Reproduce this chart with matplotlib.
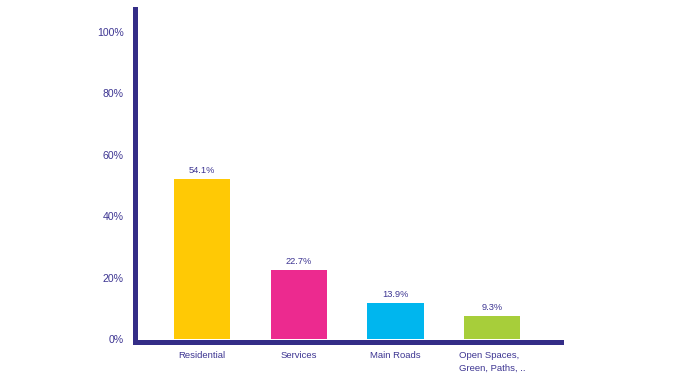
import matplotlib
matplotlib.use("Agg")
import matplotlib.pyplot as plt
from matplotlib.ticker import FuncFormatter

categories = ["Residential", "Services", "Main Roads", "Open Spaces,\nGreen, Paths, .."]
bar_values = [52.1, 22.5, 11.8, 7.6]          # bar heights as drawn in the picture
value_labels = ["54.1%", "22.7%", "13.9%", "9.3%"]
y_ticks = [0, 20, 40, 60, 80, 100]
colors = ["#FFC905", "#EC2A8F", "#00B6EE", "#A7CE3A"]

navy = "#342D87"
text_c = "#3D3592"
plt.rcParams['font.family'] = ['Liberation Sans', 'DejaVu Sans']

fig = plt.figure(figsize=(6.85, 3.8), dpi=100)
ax = fig.add_axes([0.1978, 0.1013, 0.6219, 0.8737])

x = list(range(len(categories)))
bars = ax.bar(x, bar_values, width=0.58, color=colors, zorder=2)

for b, lab in zip(bars, value_labels):
    ax.annotate(lab, (b.get_x() + b.get_width() / 2, b.get_height()),
                xytext=(0, 2.8), textcoords="offset points",
                ha="center", va="bottom", fontsize=6.7, color=text_c)

ax.set_xlim(-0.69, 3.717)
ax.set_ylim(-0.81, 107.2)
ax.set_yticks(y_ticks)
ax.yaxis.set_major_formatter(FuncFormatter(lambda v, p: f"{int(v)}%"))
ax.set_xticks(x)
ax.set_xticklabels(categories, multialignment="left")

ax.tick_params(axis="y", length=0, pad=8.3, labelsize=7.6, labelcolor=text_c)
ax.tick_params(axis="x", length=0, pad=7, labelsize=6.8, labelcolor=text_c)
for t in ax.get_xticklabels():
    t.set_linespacing(1.55)

for s in ["top", "right"]:
    ax.spines[s].set_visible(False)
for s in ["left", "bottom"]:
    ax.spines[s].set_color(navy)
    ax.spines[s].set_linewidth(3.6)
    ax.spines[s].set_zorder(3)

fig.savefig("out.png", dpi=100)
